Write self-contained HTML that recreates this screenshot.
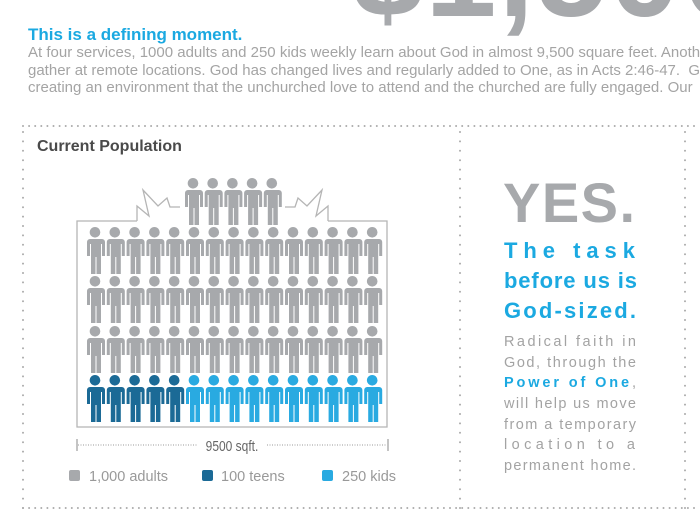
<!DOCTYPE html>
<html><head><meta charset="utf-8"><style>
body{margin:0;width:700px;height:525px;overflow:hidden;background:#fff;font-family:"Liberation Sans",sans-serif;position:relative}
.a{position:absolute;white-space:nowrap}
#clip{position:absolute;left:0;top:0;width:700px;height:525px;overflow:hidden}
</style></head><body>
<div id="clip">
<div class="a" style="left:352px;top:-101px;font-size:128px;font-weight:bold;color:#a7a9ac;letter-spacing:2px">$1,500</div>
<div class="a" style="left:28px;top:25px;font-size:17px;font-weight:bold;color:#1ba9e1">This is a defining moment.</div>
<div class="a" style="left:28px;top:44px;font-size:15px;line-height:17.5px;color:#a4a4a4">At four services, 1000 adults and 250 kids weekly learn about God in almost 9,500 square feet. Another<br>gather at remote locations. God has changed lives and regularly added to One, as in Acts 2:46-47.&nbsp; God<br>creating an environment that the unchurched love to attend and the churched are fully engaged. Our</div>
<div class="a" style="left:37px;top:138px;font-size:16px;font-weight:bold;color:#4a4a4a">Current Population</div>
<svg width="700" height="525" style="position:absolute;left:0;top:0">
<defs>
<g id="p"><circle cx="0" cy="5.3" r="5.3"/><path d="M-7,12 h14 a3,3 0 0 1 3,3 v14 h-3 v-12 h-1 v30 h-4.5 v-17 h-1 v17 h-4.5 v-30 h-1 v12 h-3 v-14 a3,3 0 0 1 3,-3z"/></g>
</defs>
<g id="g"></g>
<g fill="none" stroke="#b5b5b5" stroke-width="1.3">
<polyline points="137,221 77,221 77,427 387,427 387,221 328,221"/>
<polyline points="137,221 137,206 149,216 143,190 158,206 167,198 170,207 180,207"/>
<polyline points="328,221 328,206 316,216 322,190 307,206 298,198 295,207 285,207"/>
</g>
<g stroke="#888" stroke-width="1"><line x1="77" y1="439" x2="77" y2="451"/><line x1="388" y1="439" x2="388" y2="451"/></g>
<g stroke="#999" stroke-width="1" stroke-dasharray="1,1.5"><line x1="78" y1="445" x2="197" y2="445"/><line x1="267" y1="445" x2="387" y2="445"/></g>
<text x="232" y="451" text-anchor="middle" font-size="15" fill="#666" transform="translate(232 0) scale(0.8 1) translate(-232 0)">9500 sqft.</text>
<rect x="69" y="470" width="11" height="11" rx="2" fill="#a7a9ac"/>
<rect x="202" y="470" width="11" height="11" rx="2" fill="#1b6a96"/>
<rect x="322" y="470" width="11" height="11" rx="2" fill="#29aae1"/>
<text x="89" y="481" font-size="14.5" fill="#999">1,000 adults</text>
<text x="221" y="481" font-size="14.5" fill="#999">100 teens</text>
<text x="342" y="481" font-size="14.5" fill="#999">250 kids</text>
<text x="503" y="222" font-size="56" font-weight="bold" fill="#a7a9ac" textLength="132" lengthAdjust="spacing">YES.</text>
<g font-size="22" font-weight="bold" fill="#1ba9e1">
<text x="504" y="258" textLength="131" lengthAdjust="spacing">The task</text>
<text x="504" y="288" textLength="133" lengthAdjust="spacing">before us is</text>
<text x="504" y="318" textLength="132" lengthAdjust="spacing">God-sized.</text>
</g>
<g font-size="14.5" fill="#a3a3a3">
<text x="504" y="346" textLength="132" lengthAdjust="spacing">Radical faith in</text>
<text x="504" y="367" textLength="132" lengthAdjust="spacing">God, through the</text>
<text x="504" y="387" textLength="132" lengthAdjust="spacing"><tspan fill="#1ba9e1" font-weight="bold">Power of One</tspan>,</text>
<text x="504" y="408" textLength="132" lengthAdjust="spacing">will help us move</text>
<text x="504" y="429" textLength="132" lengthAdjust="spacing">from a temporary</text>
<text x="504" y="449" textLength="131" lengthAdjust="spacing">location to a</text>
<text x="504" y="470" textLength="132" lengthAdjust="spacing">permanent home.</text>
</g>
</svg>
</div>
<script>
var s='',i,j;
var cols=['#a7a9ac','#1b6a96','#29aae1'];
function P(x,y,c){s+='<use href="#p" x="'+x+'" y="'+y+'" fill="'+c+'"/>';}
for(i=0;i<5;i++)P(193+i*19.7,178,cols[0]);
var rows=[227,276,326,375];
for(j=0;j<4;j++)for(i=0;i<15;i++){var c=cols[0];if(j==3)c=i<5?cols[1]:cols[2];P(95+i*19.8,rows[j],c);}
for(var x=23;x<=698;x+=6.1){s+='<circle cx="'+x+'" cy="126" r="1" fill="#aaa"/><circle cx="'+x+'" cy="508" r="1" fill="#aaa"/>';}
for(var y=132;y<508;y+=9.4){s+='<circle cx="23" cy="'+y+'" r="1" fill="#aaa"/><circle cx="460" cy="'+y+'" r="1" fill="#aaa"/><circle cx="685" cy="'+y+'" r="1" fill="#aaa"/>';}
document.getElementById('g').innerHTML=s;
</script>
</body></html>
